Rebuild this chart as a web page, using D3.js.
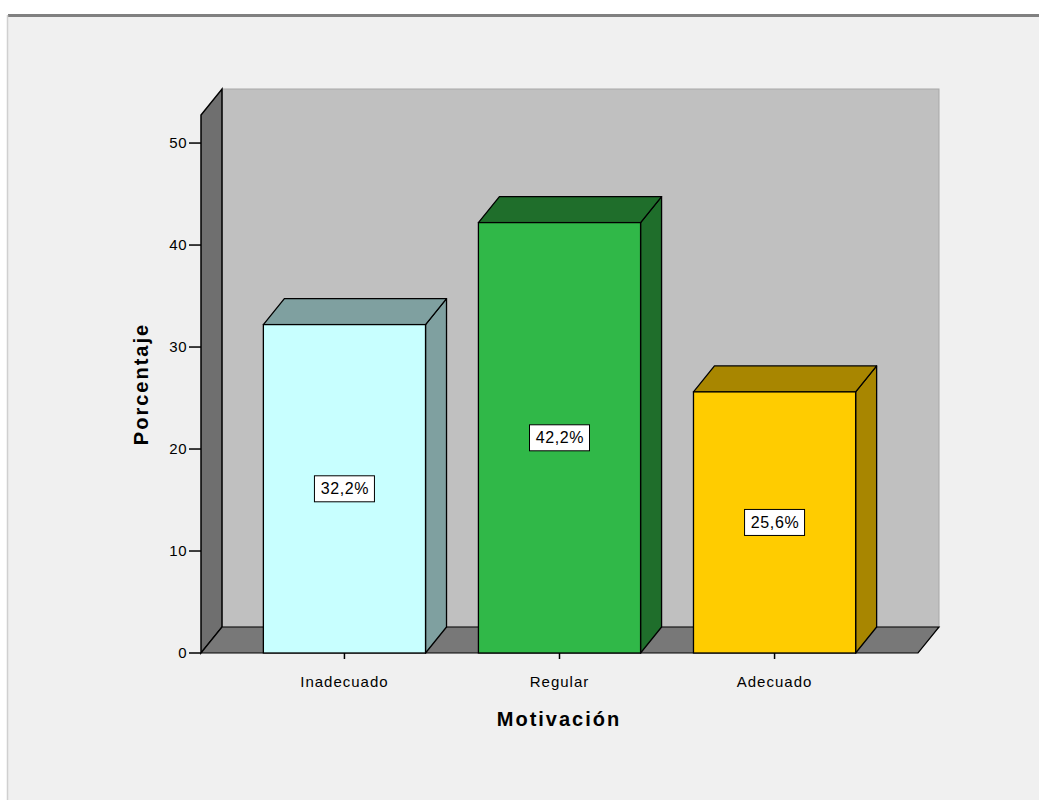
<!DOCTYPE html>
<html>
<head>
<meta charset="utf-8">
<script src="https://cdn.jsdelivr.net/npm/d3@7"></script>
<style>
html,body{margin:0;padding:0;background:#fff;}
svg{display:block;}
</style>
</head>
<body>
<svg id="chart" width="1039" height="800"></svg>
<script>
const categories = ["Inadecuado", "Regular", "Adecuado"];
const values = [32.2, 42.2, 25.6];
const valueLabels = ["32,2%", "42,2%", "25,6%"];
const yTicks = [0, 10, 20, 30, 40, 50];
const frontColors = ["#c8ffff", "#30b848", "#ffcc00"];
const sideColors = ["#7fa0a0", "#1f6e2b", "#a88600"];
const xTitle = "Motivación";
const yTitle = "Porcentaje";

const svg = d3.select("#chart");
const W = 1039, H = 800;
const FONT = "Liberation Sans, Arial, sans-serif";

// Frame
svg.append("rect").attr("x", 7).attr("y", 15).attr("width", W - 7).attr("height", H - 15).attr("fill", "#f0f0f0");
svg.append("line").attr("x1", 8).attr("x2", W).attr("y1", 15.5).attr("y2", 15.5).attr("stroke", "#808080").attr("stroke-width", 3);
svg.append("line").attr("x1", 7.5).attr("x2", 7.5).attr("y1", 15).attr("y2", H).attr("stroke", "#d0d0d0").attr("stroke-width", 1.5);

const x0 = 201, x1 = 918, yBase = 653;
const dx = 21, dy = -26;

const y = d3.scaleLinear().domain([0, 52.75]).range([yBase, 115]);
const x = d3.scaleBand().domain(categories).range([x0, x1]).paddingInner(0.246).paddingOuter(0.29);

const g = svg.append("g");
const yTop = y.range()[1];

// Back wall
g.append("rect").attr("x", x0 + dx).attr("y", yTop + dy).attr("width", x1 - x0).attr("height", yBase - yTop)
  .attr("fill", "#c0c0c0").attr("stroke", "#a8a8a8").attr("stroke-width", 1);
// Left wall
g.append("path").attr("d", `M${x0},${yBase}L${x0},${yTop}L${x0+dx},${yTop+dy}L${x0+dx},${yBase+dy}Z`)
  .attr("fill", "#6f6f6f").attr("stroke", "#000").attr("stroke-width", 1.5);
// Floor
g.append("path").attr("d", `M${x0},${yBase}L${x0+dx},${yBase+dy}L${x1+dx},${yBase+dy}L${x1},${yBase}Z`)
  .attr("fill", "#787878").attr("stroke", "#000").attr("stroke-width", 1.2);

// Y axis ticks
const ya = g.append("g");
yTicks.forEach(t => {
  ya.append("line").attr("x1", x0 - 12).attr("x2", x0).attr("y1", y(t)).attr("y2", y(t)).attr("stroke", "#000").attr("stroke-width", 1.5);
  ya.append("text").attr("x", x0 - 14).attr("y", y(t)).attr("dy", "0.35em").attr("text-anchor", "end")
    .attr("font-family", FONT).attr("font-size", 15).attr("letter-spacing", 0.5).attr("fill", "#000").text(t);
});

// Bars
categories.forEach((c, i) => {
  const bx = x(c), bw = x.bandwidth(), by = y(values[i]);
  const bg = g.append("g");
  bg.append("path").attr("d", `M${bx+bw},${yBase}L${bx+bw},${by}L${bx+bw+dx},${by+dy}L${bx+bw+dx},${yBase+dy}Z`)
    .attr("fill", sideColors[i]).attr("stroke", "#000").attr("stroke-width", 1.3).attr("stroke-linejoin", "round");
  bg.append("path").attr("d", `M${bx},${by}L${bx+dx},${by+dy}L${bx+bw+dx},${by+dy}L${bx+bw},${by}Z`)
    .attr("fill", sideColors[i]).attr("stroke", "#000").attr("stroke-width", 1.3).attr("stroke-linejoin", "round");
  bg.append("rect").attr("x", bx).attr("y", by).attr("width", bw).attr("height", yBase - by)
    .attr("fill", frontColors[i]).attr("stroke", "#000").attr("stroke-width", 1.3);
  const cx = bx + bw / 2, cy = y(values[i] / 2);
  const lw = 60, lh = 26;
  bg.append("rect").attr("x", cx - lw / 2).attr("y", cy - lh / 2).attr("width", lw).attr("height", lh)
    .attr("fill", "#fff").attr("stroke", "#000").attr("stroke-width", 1);
  bg.append("text").attr("x", cx + 0.5).attr("y", cy).attr("dy", "0.35em").attr("text-anchor", "middle")
    .attr("font-family", FONT).attr("font-size", 16).attr("letter-spacing", 0.6).attr("fill", "#000").text(valueLabels[i]);
  g.append("line").attr("x1", cx).attr("x2", cx).attr("y1", yBase).attr("y2", yBase + 6).attr("stroke", "#000").attr("stroke-width", 1.5);
  g.append("text").attr("x", cx).attr("y", yBase + 34).attr("text-anchor", "middle")
    .attr("font-family", FONT).attr("font-size", 15).attr("letter-spacing", 1).attr("fill", "#000").text(c);
});

// Axis titles
svg.append("text").attr("x", 559).attr("y", 726).attr("text-anchor", "middle")
  .attr("font-family", FONT).attr("font-weight", "bold").attr("font-size", 20)
  .attr("letter-spacing", 2).attr("fill", "#000").text(xTitle);
svg.append("text").attr("transform", "translate(148,384) rotate(-90)").attr("text-anchor", "middle")
  .attr("font-family", FONT).attr("font-weight", "bold").attr("font-size", 20)
  .attr("letter-spacing", 2).attr("fill", "#000").text(yTitle);
</script>
</body>
</html>
